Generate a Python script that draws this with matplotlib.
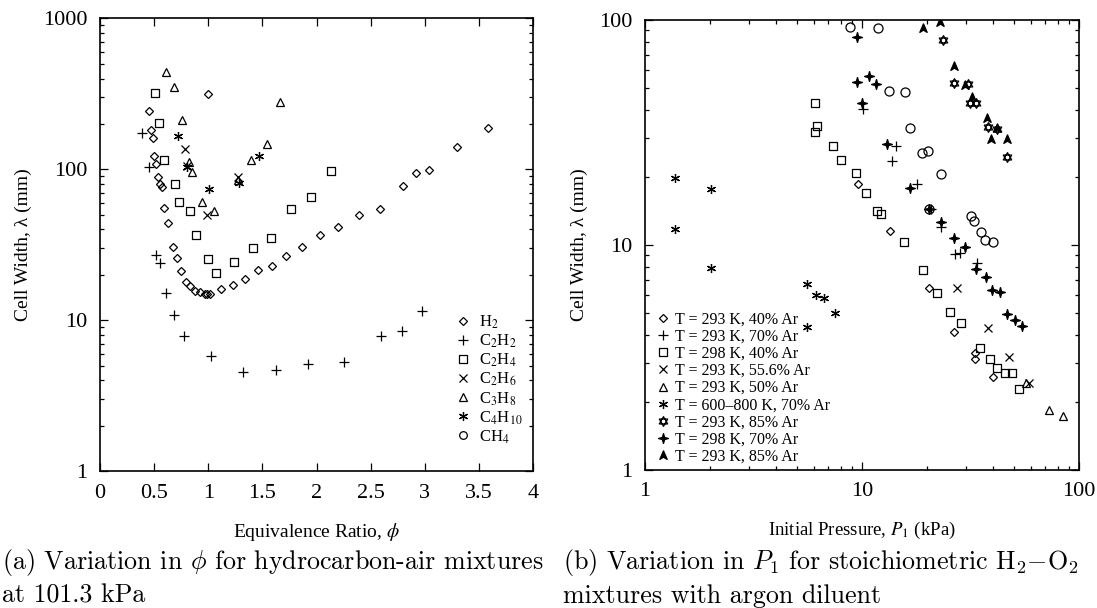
import matplotlib
matplotlib.use('Agg')
import matplotlib.pyplot as plt
from matplotlib.path import Path
from matplotlib.ticker import LogLocator, NullFormatter, FuncFormatter, MultipleLocator

plt.rcParams['font.family'] = ['Liberation Serif', 'DejaVu Serif']
plt.rcParams['mathtext.fontset'] = 'stix'

# ---------------- Panel (a): cell width vs equivalence ratio ----------------
h2_phi = [0.45, 0.47, 0.49, 1.00, 0.50, 0.52, 0.54, 0.55, 0.57, 0.59, 0.63, 0.67, 0.71,
          0.75, 0.79, 0.83, 0.88, 0.92, 0.97, 0.99, 1.02, 1.12, 1.23, 1.34, 1.46, 1.59,
          1.72, 1.87, 2.03, 2.20, 2.39, 2.59, 2.80, 2.92, 3.04, 3.30, 3.58]
h2_lam = [244, 182, 162, 316, 122, 109, 88.6, 80, 76, 55, 44, 30.7, 25.7,
          21.2, 18.0, 16.8, 15.6, 15.4, 15.0, 15.0, 15.0, 16.1, 17.1, 18.7, 21.6, 22.8,
          26.6, 30.5, 36.5, 41.4, 49.8, 54.6, 78, 94, 99, 141, 187]

c2h2_phi = [0.385, 0.456, 0.52, 0.557, 0.61, 0.684, 0.779, 1.028, 1.324, 1.626, 1.918,
            2.257, 2.592, 2.786, 2.975]
c2h2_lam = [175, 104, 27.2, 23.9, 15.1, 10.8, 7.9, 5.78, 4.53, 4.65, 5.14,
            5.25, 7.82, 8.43, 11.5]

c2h4_phi = [0.511, 0.548, 0.591, 0.693, 0.73, 0.828, 0.89, 1.0, 1.068, 1.235, 1.413,
            1.583, 1.76, 1.949, 2.137]
c2h4_lam = [321, 202, 115, 80, 60.7, 53, 36.8, 25.4, 20.7, 24.2, 30.2,
            35.2, 54.8, 65.8, 98]

c2h6_phi = [0.788, 0.80, 0.991, 1.272]
c2h6_lam = [136, 106, 50, 89]

c3h8_phi = [0.607, 0.687, 0.757, 0.819, 0.846, 0.942, 1.05, 1.272, 1.392, 1.543, 1.658]
c3h8_lam = [440, 350, 211, 111, 96, 61, 53, 85, 116, 147, 278]

c4h10_phi = [0.72, 0.807, 1.01, 1.284, 1.466]
c4h10_lam = [167, 104, 74, 81, 123]

ch4_phi = []
ch4_lam = []

left_labels = [r'H$_2$', r'C$_2$H$_2$', r'C$_2$H$_4$', r'C$_2$H$_6$', r'C$_3$H$_8$',
               r'C$_4$H$_{10}$', r'CH$_4$']

# ---------------- Panel (b): cell width vs initial pressure ----------------
d40_p = [9.62, 13.4, 20.3, 26.5, 33.3, 33.3, 40.0]
d40_lam = [18.7, 11.5, 6.44, 4.12, 3.32, 3.10, 2.59]

p70_p = [10.1, 14.4, 13.8, 18.0, 20.9, 23.2, 26.9, 28.3, 34.0]
p70_lam = [40.4, 27.5, 23.7, 18.7, 14.5, 12.0, 9.1, 9.19, 8.3]

s40_p = [6.09, 6.17, 6.09, 7.35, 7.97, 9.42, 10.47, 11.77, 12.27, 15.6, 19.05, 22.1,
         25.5, 28.7, 35.0, 38.8, 41.9, 45.5, 49.0, 52.9]
s40_lam = [42.7, 33.9, 31.7, 27.6, 23.9, 20.8, 17.0, 14.2, 13.7, 10.3, 7.74, 6.1,
           5.04, 4.52, 3.47, 3.13, 2.83, 2.71, 2.71, 2.29]

x556_p = [27.3, 37.9, 47.7, 59.0]
x556_lam = [6.44, 4.28, 3.17, 2.43]

t50_p = [56.8, 73.0, 84.1]
t50_lam = [2.44, 1.85, 1.73]

a70_p = [1.375, 2.02, 1.375, 2.01, 5.6, 6.12, 6.68, 7.48, 5.6]
a70_lam = [19.9, 17.7, 11.8, 7.88, 6.68, 6.01, 5.83, 4.97, 4.3]

hx85_p = [23.5, 26.5, 30.9, 31.4, 33.5, 37.9, 41.8, 46.7]
hx85_lam = [81.5, 52.3, 52.0, 42.9, 42.9, 33.4, 32.8, 24.7]

sp70_p = [9.45, 9.51, 10.8, 11.6, 10.0, 13.1, 16.6, 20.4, 23.2, 26.5, 29.7, 33.5,
          37.2, 39.8, 43.4, 46.7, 50.8, 54.8]
sp70_lam = [83.8, 53.2, 56.5, 52.1, 43.0, 28.2, 17.9, 14.5, 12.7, 10.7, 9.83, 7.8,
            7.23, 6.29, 6.17, 4.96, 4.64, 4.38]

ah85_p = [19.05, 22.9, 26.5, 29.9, 32.0, 37.6, 41.8, 39.3, 46.4]
ah85_lam = [91.8, 97.6, 62.5, 51.4, 45.6, 36.6, 33.0, 29.5, 29.5]

circ_p = [8.84, 11.9, 13.3, 15.7, 16.6, 18.9, 20.1, 23.1, 20.4, 31.9, 32.8, 35.3, 36.9, 40.0]
circ_lam = [92.8, 92.4, 48.5, 48.0, 33.0, 25.7, 26.2, 20.6, 14.5, 13.5, 12.8, 11.4, 10.5, 10.3]

right_labels = ['T = 293 K, 40% Ar', 'T = 293 K, 70% Ar', 'T = 298 K, 40% Ar',
                'T = 293 K, 55.6% Ar', 'T = 293 K, 50% Ar', 'T = 600\u2013800 K, 70% Ar',
                'T = 293 K, 85% Ar', 'T = 298 K, 70% Ar', 'T = 293 K, 85% Ar']

# ---------------- custom marker shapes ----------------
def _poly(pts):
    return pts + [pts[0]], [Path.MOVETO] + [Path.LINETO] * (len(pts) - 1) + [Path.CLOSEPOLY]

v1, c1 = _poly([(-1, -1), (1, -1), (1, 1), (-1, 1)])
v2, c2 = _poly([(-0.08, -0.08), (0.08, -0.08), (0.08, 0.08), (-0.08, 0.08)])
SQ_DOT = Path(v1 + v2, c1 + c2)

v1, c1 = _poly([(0, 1), (0.866, -0.5), (-0.866, -0.5)])
v2, c2 = _poly([(0, -1), (0.866, 0.5), (-0.866, 0.5)])
HEXA = Path(v1 + v2, c1 + c2)

v1, c1 = _poly([(0, 1), (0.22, 0.22), (1, 0), (0.22, -0.22), (0, -1), (-0.22, -0.22),
                (-1, 0), (-0.22, 0.22)])
SPARK = Path(v1, c1)

v1, c1 = _poly([(0, 1), (0.8, -0.85), (0, -0.35), (-0.8, -0.85)])
ARROW = Path(v1, c1)

fig = plt.figure(figsize=(10.97, 6.08), dpi=100)
ax1 = fig.add_axes([0.0912, 0.2253, 0.3947, 0.7443])
ax2 = fig.add_axes([0.588, 0.227, 0.3956, 0.740])

open_kw = dict(linestyle='none', mfc='none', mec='black', mew=0.9)
lw_k = dict(linestyle='none', color='black', mew=0.9)

# ---- panel (a) ----
ax1.plot(h2_phi, h2_lam, marker='D', ms=4.0, label=left_labels[0], **open_kw)
ax1.plot(c2h2_phi, c2h2_lam, marker='+', ms=6.5, label=left_labels[1], **lw_k)
ax1.plot(c2h4_phi, c2h4_lam, marker=SQ_DOT, ms=6.3, label=left_labels[2], **open_kw)
ax1.plot(c2h6_phi, c2h6_lam, marker='x', ms=6, label=left_labels[3], **lw_k)
ax1.plot(c3h8_phi, c3h8_lam, marker='^', ms=6, label=left_labels[4], **open_kw)
ax1.plot(c4h10_phi, c4h10_lam, marker=(6, 2, 0), ms=6.5, label=left_labels[5], **lw_k)
ax1.plot(ch4_phi, ch4_lam, marker='o', ms=5.5, label=left_labels[6], **open_kw)

ax1.set_yscale('log')
ax1.set_xlim(0, 4)
ax1.set_ylim(1, 1000)
ax1.xaxis.set_major_locator(MultipleLocator(0.5))
ax1.xaxis.set_major_formatter(FuncFormatter(lambda v, p: f'{v:g}'))
ax1.set_xlabel(r'Equivalence Ratio, $\phi$', fontsize=14, labelpad=13)
ax1.set_ylabel('Cell Width, \u03bb (mm)', fontsize=14, labelpad=8)

leg1 = ax1.legend(loc='lower left', bbox_to_anchor=(0.82, 0.056), frameon=False,
                  fontsize=12, handlelength=1.0, handletextpad=0.45, labelspacing=0.1,
                  borderpad=0, borderaxespad=0)

# ---- panel (b) ----
ax2.plot(d40_p, d40_lam, marker='D', ms=3.6, label=right_labels[0], **open_kw)
ax2.plot(p70_p, p70_lam, marker='+', ms=6.5, label=right_labels[1], **lw_k)
ax2.plot(s40_p, s40_lam, marker=SQ_DOT, ms=6.3, label=right_labels[2], **open_kw)
ax2.plot(x556_p, x556_lam, marker='x', ms=6, label=right_labels[3], **lw_k)
ax2.plot(t50_p, t50_lam, marker='^', ms=5.5, label=right_labels[4], **open_kw)
ax2.plot(a70_p, a70_lam, marker=(6, 2, 0), ms=6.5, label=right_labels[5], **lw_k)
ax2.plot(hx85_p, hx85_lam, marker=HEXA, ms=7, label=right_labels[6], **open_kw)
ax2.plot(sp70_p, sp70_lam, marker=SPARK, ms=7, linestyle='none', color='black',
         label=right_labels[7])
ax2.plot(ah85_p, ah85_lam, marker=ARROW, ms=6.5, linestyle='none', color='black',
         label=right_labels[8])
ax2.plot(circ_p, circ_lam, marker='o', ms=6.5, **open_kw)

ax2.set_xscale('log')
ax2.set_yscale('log')
ax2.set_xlim(1, 100)
ax2.set_ylim(1, 100)
ax2.set_xlabel(r'Initial Pressure, $P_{\mathit{1}}$ (kPa)', fontsize=13.5, labelpad=13)
ax2.set_ylabel('Cell Width, \u03bb (mm)', fontsize=14, labelpad=8)

leg2 = ax2.legend(loc='lower left', bbox_to_anchor=(0.026, 0.012), frameon=False,
                  fontsize=11.5, handlelength=0.8, handletextpad=0.4, labelspacing=0.07,
                  borderpad=0, borderaxespad=0)

fmt = FuncFormatter(lambda v, p: f'{v:g}')
for ax in (ax1, ax2):
    for sp in ax.spines.values():
        sp.set_linewidth(1.2)
    ax.tick_params(which='both', direction='in', top=True, right=True, labelsize=16,
                   width=0.9)
    ax.tick_params(which='major', length=5.5, pad=9)
    ax.tick_params(which='minor', length=2.8)
    ax.yaxis.set_major_locator(LogLocator(base=10, numticks=10))
    ax.yaxis.set_minor_locator(LogLocator(base=10, subs=range(2, 10), numticks=10))
    ax.yaxis.set_minor_formatter(NullFormatter())
    ax.yaxis.set_major_formatter(fmt)
ax2.xaxis.set_major_locator(LogLocator(base=10, numticks=10))
ax2.xaxis.set_minor_locator(LogLocator(base=10, subs=range(2, 10), numticks=10))
ax2.xaxis.set_minor_formatter(NullFormatter())
ax2.xaxis.set_major_formatter(fmt)

# ---- captions ----
cap_kw = dict(fontsize=18.7, family='cmr10', math_fontfamily='cm', va='center', ha='left')
fig.text(0.002, 1 - 562 / 608, r'(a) Variation in $\phi$ for hydrocarbon-air mixtures', **cap_kw)
fig.text(0.002, 1 - 596 / 608, 'at 101.3 kPa', **cap_kw)
fig.text(0.513, 1 - 562 / 608, r'(b) Variation in $P_1$ for stoichiometric $\mathrm{H_2{-}O_2}$', **cap_kw)
fig.text(0.513, 1 - 596 / 608, 'mixtures with argon diluent', **cap_kw)

fig.savefig('out.png', dpi=100)
